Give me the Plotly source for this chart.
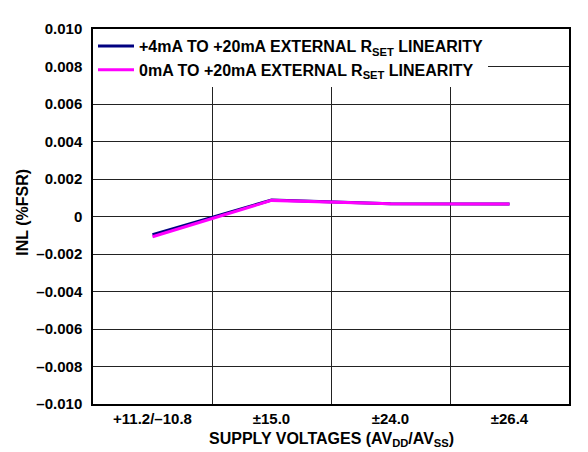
import plotly.graph_objects as go

categories = ["+11.2/\u201310.8", "\u00b115.0", "\u00b124.0", "\u00b126.4"]
inl_4_20 = [-0.00097, 0.00088, 0.00068, 0.00067]
inl_0_20 = [-0.00108, 0.00086, 0.00068, 0.00067]
series_names = ["+4mA TO +20mA EXTERNAL R<sub>SET</sub> LINEARITY",
                "0mA TO +20mA EXTERNAL R<sub>SET</sub> LINEARITY"]
y_tickvals = [0.010, 0.008, 0.006, 0.004, 0.002, 0, -0.002, -0.004, -0.006, -0.008, -0.010]
y_ticktext = ["0.010", "0.008", "0.006", "0.004", "0.002", "0",
              "\u20130.002", "\u20130.004", "\u20130.006", "\u20130.008", "\u20130.010"]
x_title = "SUPPLY VOLTAGES (AV<sub>DD</sub>/AV<sub>SS</sub>)"
y_title = "INL (%FSR)"
figure_id = "08922-026"

FONT = "Arial, Liberation Sans, sans-serif"
W, H = 588, 452
L, R, T, B = 85, 27, 16, 56
PW, PH = W - L - R, H - T - B

fig = go.Figure()
fig.add_trace(go.Scatter(x=categories, y=inl_4_20, mode="lines", name=series_names[0],
                         line=dict(color="#000080", width=3)))
fig.add_trace(go.Scatter(x=categories, y=inl_0_20, mode="lines", name=series_names[1],
                         line=dict(color="#FF00FF", width=3)))

fig.update_layout(
    width=W, height=H,
    margin=dict(l=L, r=R, t=T, b=B),
    paper_bgcolor="white", plot_bgcolor="white",
    font=dict(family=FONT, size=15, color="black", weight="bold"),
    showlegend=True,
    legend=dict(x=0, y=1, xanchor="left", yanchor="top", bgcolor="white",
                borderwidth=0, font=dict(family=FONT, size=16, color="black", weight="bold"),
                itemwidth=36, tracegroupgap=0),
    xaxis=dict(type="category", range=[-0.5, 3.5], tickson="boundaries",
               showgrid=True, gridcolor="#222", gridwidth=1.3,
               showline=True, linecolor="black", linewidth=1.5, mirror=True,
               ticks="", ticklabelstandoff=0,
               tickfont=dict(family=FONT, size=15, weight="bold")),
    yaxis=dict(range=[-0.010, 0.010], tickvals=y_tickvals, ticktext=y_ticktext,
               showgrid=True, gridcolor="#222", gridwidth=1.3,
               zeroline=False,
               showline=True, linecolor="black", linewidth=1.5, mirror=True,
               ticks="", ticklabelstandoff=6,
               tickfont=dict(family=FONT, size=15, weight="bold")),
)

fig.add_annotation(text=x_title, xref="paper", yref="paper",
                   x=0.5, y=(T + PH - 432) / PH, showarrow=False,
                   font=dict(family=FONT, size=16, weight="bold"),
                   xanchor="center", yanchor="middle")
fig.add_annotation(text=y_title, xref="paper", yref="paper",
                   x=(15 - L) / PW, y=0.51, showarrow=False, textangle=-90,
                   font=dict(family=FONT, size=16, weight="bold"),
                   xanchor="center", yanchor="middle")
fig.add_annotation(text=figure_id, xref="paper", yref="paper",
                   x=(580 - L) / PW, y=(T + PH - 424) / PH, showarrow=False,
                   textangle=-90, font=dict(family=FONT, size=10, color="#777", weight="normal"),
                   xanchor="center", yanchor="middle")

fig.write_html("out.html")
